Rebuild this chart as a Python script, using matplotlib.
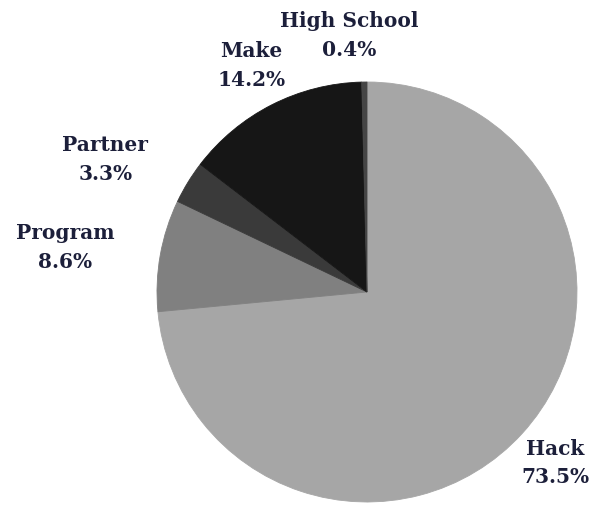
import matplotlib
matplotlib.use("Agg")
import matplotlib.pyplot as plt
import numpy as np

categories = ["Hack", "Program", "Partner", "Make", "High School"]
values = [73.5, 8.6, 3.3, 14.2, 0.4]
colors = ["#a6a6a6", "#808080", "#3a3a3a", "#161616", "#454545"]
label_ha = ["center", "right", "right", "center", "center"]

W, H = 598, 505
R = 210.0
cx, cy = 367.0, 292.0

fig = plt.figure(figsize=(W / 100, H / 100), dpi=100)
ax = fig.add_axes([0, 0, 1, 1])
wedges, _ = ax.pie(values, colors=colors, startangle=90, counterclock=False,
                   radius=1.0, wedgeprops=dict(linewidth=0.6))
for w, c in zip(wedges, colors):
    w.set_edgecolor(c)

total = sum(values)
cum = 0.0
for cat, v, ha in zip(categories, values, label_ha):
    mid = (cum + v / 2) / total * 360.0
    cum += v
    ang = np.deg2rad(90 - mid)
    d = 1.21
    x, y = d * np.cos(ang), d * np.sin(ang)
    if cat == "High School":
        x -= 0.07
        y += 0.01
    if ha == "right":
        x -= 0.01
    ax.text(x, y, f"{cat}\n{v:.1f}%", ha=ha, va="center", multialignment="center",
            fontsize=14.5, fontweight="bold", family="DejaVu Serif",
            color="#1c1f3a", linespacing=1.55)

ax.set_xlim(-cx / R, (W - cx) / R)
ax.set_ylim(-(H - cy) / R, cy / R)
ax.set_aspect("equal")
ax.axis("off")
fig.savefig("out.png", dpi=100)
